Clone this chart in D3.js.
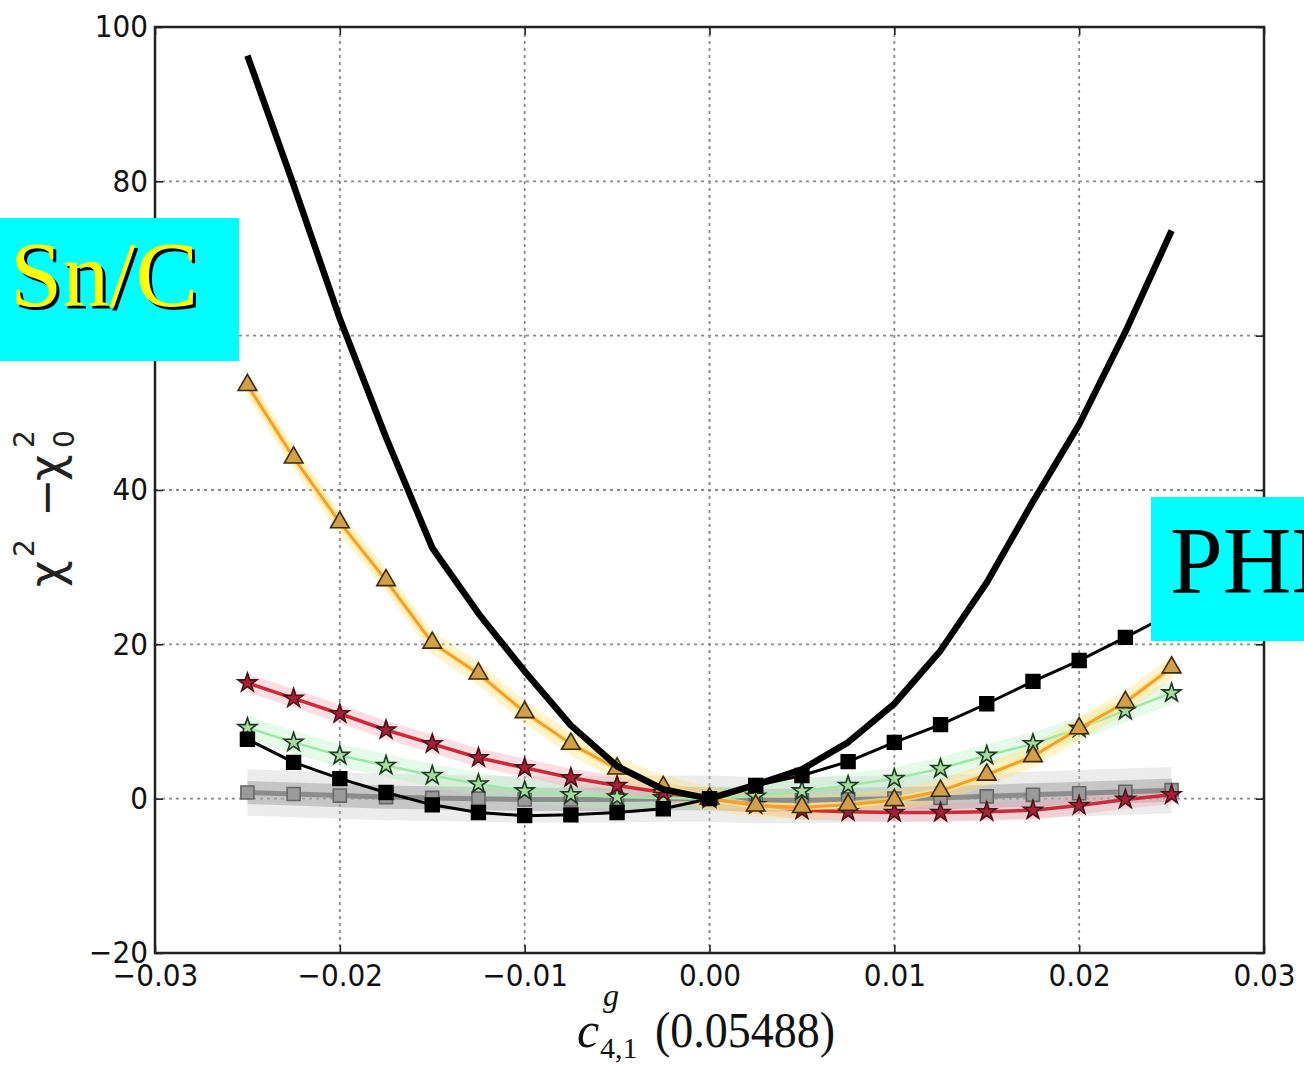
<!DOCTYPE html>
<html><head><meta charset="utf-8">
<script src="https://cdn.jsdelivr.net/npm/d3@7"></script>
<style>body{margin:0;background:#fff;overflow:hidden}</style>
</head><body>
<svg id="c" width="1304" height="1066"></svg>
<script>
// ---------- data ----------
const xValues = [-0.025,-0.0225,-0.02,-0.0175,-0.015,-0.0125,-0.01,-0.0075,-0.005,-0.0025,0,
                 0.0025,0.005,0.0075,0.01,0.0125,0.015,0.0175,0.02,0.0225,0.025];
const totalCurve   = [96.3,79.5,62.2,46.8,32.5,24.0,16.5,9.5,4.2,1.2,0,1.8,3.8,7.3,12.3,19.2,28.0,38.5,48.5,60.5,73.6];
const squareSeries = [7.7,4.7,2.6,0.8,-0.8,-1.8,-2.2,-2.1,-1.8,-1.3,0,1.7,3.0,4.8,7.3,9.6,12.3,15.2,17.9,20.9,24.0];
const triangleSeries = [53.6,44.2,35.8,28.3,20.2,16.2,11.2,7.1,3.9,1.5,0,-0.9,-1.1,-0.8,-0.2,1.0,3.1,5.5,9.1,12.5,17.0];
const redStarSeries  = [15.0,13.0,11.0,8.9,7.1,5.3,4.0,2.7,1.7,0.8,0,-0.8,-1.5,-1.7,-1.8,-1.8,-1.7,-1.5,-0.9,-0.1,0.5];
const greenStarSeries= [9.2,7.3,5.6,4.3,3.0,1.9,1.0,0.5,0.2,0.1,0,0.3,1.0,1.7,2.6,3.9,5.6,7.1,9.1,11.4,13.7];
const graySeries     = [0.8,0.6,0.4,0.2,0.1,0.0,-0.1,-0.1,-0.1,0.0,0,-0.2,-0.2,-0.1,0.0,0.1,0.3,0.5,0.7,0.9,1.1];
const bandNames      = ["grayWide","grayNarrow","green","red","orange"];
const bandHalfWidths = [3.0,1.5,1.5,1.2,1.5];
const xTicks = [-0.03,-0.02,-0.01,0,0.01,0.02,0.03];
const xTickLabels = ["\u22120.03","\u22120.02","\u22120.01","0.00","0.01","0.02","0.03"];
const yTicks = [-20,0,20,40,60,80,100];
const yTickLabels = ["\u221220","0","20","40","60","80","100"];

// ---------- layout ----------
const L=155,R=1264,T=27,B=953;
const svg=d3.select("#c");
const x=d3.scaleLinear().domain([-0.03,0.03]).range([L,R]);
const y=d3.scaleLinear().domain([-20,100]).range([B,T]);

svg.append("defs").append("clipPath").attr("id","clip")
  .append("rect").attr("x",L).attr("y",T).attr("width",R-L).attr("height",B-T);

// grid
const grid=svg.append("g");
grid.selectAll("line.gx").data(xTicks.slice(1,-1)).join("line")
  .attr("x1",d=>x(d)).attr("x2",d=>x(d)).attr("y1",T).attr("y2",B)
  .attr("stroke","#8a8a8a").attr("stroke-width",1.8).attr("stroke-dasharray","3,4");
grid.selectAll("line.gy").data(yTicks.slice(1,-1)).join("line")
  .attr("y1",d=>y(d)).attr("y2",d=>y(d)).attr("x1",L).attr("x2",R)
  .attr("stroke","#8a8a8a").attr("stroke-width",1.8).attr("stroke-dasharray","3,4");

const plot=svg.append("g").attr("clip-path","url(#clip)");
const pts=vals=>vals.map((v,i)=>[xValues[i],v]);
const line=d3.line().x(d=>x(d[0])).y(d=>y(d[1]));
const area=(half)=>d3.area().x(d=>x(d[0])).y0(d=>y(d[1]-half)).y1(d=>y(d[1]+half));

// bands
const bandData={grayWide:graySeries,grayNarrow:graySeries,green:greenStarSeries,red:redStarSeries,orange:triangleSeries};
const bandFill={grayWide:"#c8c8c8",grayNarrow:"#9a9a9a",green:"#b8f0c0",red:"#f4a0a8",orange:"#ffe070"};
const bandOp={grayWide:0.35,grayNarrow:0.45,green:0.35,red:0.35,orange:0.35};
bandNames.forEach((n,i)=>{
  plot.append("path").datum(pts(bandData[n])).attr("d",area(bandHalfWidths[i]))
    .attr("fill",bandFill[n]).attr("opacity",bandOp[n]);
});

function drawSeries(vals,opt){
  plot.append("path").datum(pts(vals)).attr("d",line).attr("fill","none")
    .attr("stroke",opt.color).attr("stroke-width",opt.width).attr("stroke-linejoin","round");
  if(opt.symbol){
    plot.selectAll(null).data(pts(vals)).join("path")
      .attr("transform",d=>`translate(${x(d[0])},${y(d[1])})`)
      .attr("d",d3.symbol().type(opt.symbol).size(opt.size))
      .attr("fill",opt.fill).attr("stroke",opt.edge).attr("stroke-width",1.6);
  }
}
drawSeries(graySeries,{color:"#8c8c8c",width:5,symbol:d3.symbolSquare,size:170,fill:"#9a9a9a",edge:"#666"});
drawSeries(greenStarSeries,{color:"#9ee8a6",width:2.5,symbol:d3.symbolStar,size:110,fill:"#a6dca0",edge:"#1e3a22"});
drawSeries(redStarSeries,{color:"#cc2a3a",width:3.5,symbol:d3.symbolStar,size:110,fill:"#a82038",edge:"#4a1018"});
plot.append("path").datum(pts(triangleSeries)).attr("d",line).attr("fill","none")
  .attr("stroke","#ffe680").attr("stroke-width",7).attr("opacity",0.7);
drawSeries(triangleSeries,{color:"#f0a030",width:3,symbol:d3.symbolTriangle,size:150,fill:"#d2a048",edge:"#3a2a08"});
drawSeries(squareSeries,{color:"#000",width:3,symbol:d3.symbolSquare,size:190,fill:"#000",edge:"#000"});
drawSeries(totalCurve,{color:"#000",width:6.5});

// frame
svg.append("rect").attr("x",L).attr("y",T).attr("width",R-L).attr("height",B-T)
  .attr("fill","none").attr("stroke","#222").attr("stroke-width",2.5);

// axes
function squeeze(g){
  g.selectAll(".tick text").each(function(){
    const w=this.getComputedTextLength();
    d3.select(this).attr("textLength",w*0.9).attr("lengthAdjust","spacingAndGlyphs");
  });
}
const fx=d=>xTickLabels[xTicks.indexOf(d)];
const fy=d=>yTickLabels[yTicks.indexOf(d)];
const gx=svg.append("g").attr("transform",`translate(0,${B})`)
  .call(d3.axisBottom(x).tickValues(xTicks).tickFormat(fx).tickSizeInner(-8).tickSizeOuter(0).tickPadding(11));
const gy=svg.append("g").attr("transform",`translate(${L},0)`)
  .call(d3.axisLeft(y).tickValues(yTicks).tickFormat(fy).tickSizeInner(-8).tickSizeOuter(0).tickPadding(7));
svg.append("g").attr("transform",`translate(0,${T})`)
  .call(d3.axisTop(x).tickValues(xTicks).tickFormat("").tickSizeInner(-8).tickSizeOuter(0));
svg.append("g").attr("transform",`translate(${R},0)`)
  .call(d3.axisRight(y).tickValues(yTicks).tickFormat("").tickSizeInner(-8).tickSizeOuter(0));
svg.selectAll(".domain").remove();
svg.selectAll(".tick line").attr("stroke","#222").attr("stroke-width",1.6);
[gx,gy].forEach(g=>{
  g.selectAll(".tick text").attr("font-family","DejaVu Sans").attr("font-size",31).attr("fill","#111");
  squeeze(g);
});

// y-axis label
const yl=svg.append("g").attr("transform","translate(62,497) rotate(-90)")
  .attr("font-family","DejaVu Sans").attr("fill","#222");
yl.append("text").attr("x",-90).attr("y",0).attr("font-size",46).text("\u03c7");
yl.append("text").attr("x",-60).attr("y",-28).attr("font-size",28).text("2");
yl.append("text").attr("x",-20).attr("y",0).attr("font-size",46).text("\u2212");
yl.append("text").attr("x",16).attr("y",0).attr("font-size",46).text("\u03c7");
yl.append("text").attr("x",49).attr("y",-28).attr("font-size",28).text("2");
yl.append("text").attr("x",49).attr("y",12).attr("font-size",28).text("0");

// x-axis label
const xl=svg.append("g").attr("font-family","Liberation Serif").attr("fill","#111");
xl.append("text").attr("x",577).attr("y",1047).attr("font-size",50).attr("font-style","italic").text("c");
xl.append("text").attr("x",603).attr("y",1006).attr("font-size",32).attr("font-style","italic").text("g");
xl.append("text").attr("x",600).attr("y",1058).attr("font-size",30).text("4,1");
xl.append("text").attr("x",655).attr("y",1047).attr("font-size",50).attr("textLength",180)
  .attr("lengthAdjust","spacingAndGlyphs").text("(0.05488)");

// annotation boxes
svg.append("rect").attr("x",0).attr("y",218).attr("width",239).attr("height",143).attr("fill","#00ffff");
svg.append("text").attr("x",13).attr("y",309).attr("font-family","Liberation Serif").attr("font-size",94)
  .attr("fill","#000").text("Sn/C");
svg.append("text").attr("x",10).attr("y",306).attr("font-family","Liberation Serif").attr("font-size",94)
  .attr("fill","#ffff00").text("Sn/C");
svg.append("rect").attr("x",1151).attr("y",497).attr("width",160).attr("height",144).attr("fill","#00ffff");
svg.append("text").attr("x",1170).attr("y",593).attr("font-family","Liberation Serif").attr("font-size",95)
  .attr("fill","#000").text("PHE");
</script>
</body></html>
